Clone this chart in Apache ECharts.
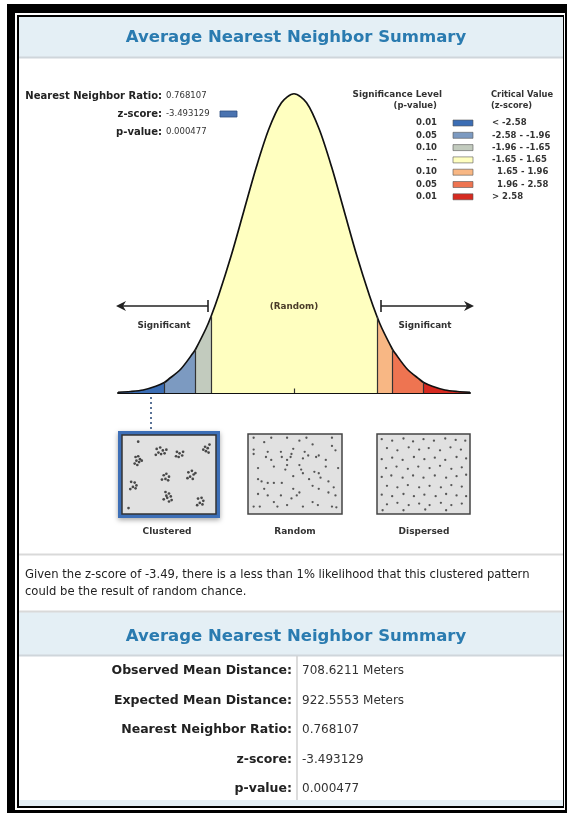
<!DOCTYPE html>
<html>
<head>
<meta charset="utf-8">
<script src="https://cdn.jsdelivr.net/npm/echarts@6/dist/echarts.min.js"></script>
<style>
  html, body { margin: 0; padding: 0; background: #fff; }
  #chart { width: 567px; height: 813px; }
</style>
</head>
<body>
<div id="chart"></div>
<script>
// normal curve (z-score, height)
var curveZ = [-3.5, -3.25, -3, -2.75, -2.58, -2.5, -2.25, -2, -1.96, -1.75, -1.65, -1.5, -1.25, -1, -0.75, -0.5, -0.25,
    0, 0.25, 0.5, 0.75, 1, 1.25, 1.5, 1.65, 1.75, 1.96, 2, 2.25, 2.5, 2.58, 2.75, 3, 3.25, 3.5];
var curveH = [0.001, 0.002, 0.004, 0.009, 0.014, 0.018, 0.032, 0.054, 0.058, 0.086, 0.102, 0.130, 0.183, 0.242, 0.301, 0.352, 0.387,
    0.399, 0.387, 0.352, 0.301, 0.242, 0.183, 0.130, 0.102, 0.086, 0.058, 0.054, 0.032, 0.018, 0.014, 0.009, 0.004, 0.002, 0.001];
var bandEdges = [-3.5, -2.58, -1.96, -1.65, 1.65, 1.96, 2.58, 3.5];
var bandColors = ['#3b6db4', '#7c9ac1', '#c2cbbe', '#ffffc0', '#f8b784', '#ee7451', '#d62a20'];

// legend
var sigLevels = ['0.01', '0.05', '0.10', '---', '0.10', '0.05', '0.01'];
var critValues = ['< -2.58', '-2.58 - -1.96', '-1.96 - -1.65', '-1.65 - 1.65', '1.65 - 1.96', '1.96 - 2.58', '> 2.58'];

// top-left stats
var topLabels = ['Nearest Neighbor Ratio:', 'z-score:', 'p-value:'];
var topValues = ['0.768107', '-3.493129', '0.000477'];

// pattern pictures (unit coords inside each box, y from top)
var clusteredPts = [
    [0.12,0.26],[0.15,0.25],[0.17,0.29],[0.13,0.31],[0.16,0.33],[0.11,0.35],[0.19,0.31],[0.14,0.37],
    [0.36,0.15],[0.40,0.13],[0.43,0.17],[0.38,0.20],[0.41,0.22],[0.45,0.21],[0.35,0.23],[0.47,0.16],
    [0.59,0.19],[0.62,0.21],[0.65,0.24],[0.61,0.26],[0.66,0.19],[0.58,0.25],
    [0.91,0.12],[0.94,0.14],[0.92,0.18],[0.95,0.20],[0.89,0.16],
    [0.44,0.51],[0.47,0.49],[0.50,0.53],[0.46,0.56],[0.42,0.57],[0.49,0.58],
    [0.72,0.47],[0.76,0.45],[0.78,0.50],[0.74,0.53],[0.71,0.55],[0.77,0.56],[0.80,0.48],
    [0.07,0.60],[0.11,0.61],[0.13,0.65],[0.09,0.67],[0.06,0.70],[0.12,0.69],
    [0.46,0.74],[0.50,0.76],[0.52,0.80],[0.48,0.82],[0.44,0.84],[0.53,0.85],[0.50,0.87],[0.47,0.79],
    [0.83,0.83],[0.87,0.82],[0.89,0.86],[0.85,0.89],[0.82,0.92],[0.88,0.91],
    [0.15,0.05],[0.04,0.96],[0.96,0.09]
];
var randomPts = [
    [0.03,0.17],[0.03,0.23],[0.15,0.07],[0.19,0.20],[0.17,0.27],[0.23,0.31],[0.26,0.40],[0.34,0.20],
    [0.35,0.27],[0.41,0.31],[0.46,0.23],[0.48,0.16],[0.45,0.27],[0.55,0.38],[0.57,0.44],[0.59,0.49],
    [0.70,0.10],[0.61,0.20],[0.65,0.25],[0.74,0.27],[0.77,0.25],[0.92,0.12],[0.96,0.18],[0.72,0.47],
    [0.77,0.49],[0.79,0.55],[0.85,0.40],[0.88,0.60],[0.08,0.57],[0.12,0.60],[0.19,0.62],[0.26,0.62],
    [0.35,0.62],[0.08,0.77],[0.19,0.79],[0.15,0.70],[0.48,0.70],[0.52,0.79],[0.46,0.83],[0.55,0.75],
    [0.70,0.66],[0.77,0.70],[0.88,0.75],[0.96,0.79],[0.03,0.94],[0.10,0.94],[0.30,0.94],[0.41,0.92],
    [0.59,0.94],[0.76,0.92],[0.92,0.94],[0.97,0.95],[0.26,0.88],[0.70,0.88],[0.48,0.53],[0.39,0.44],
    [0.08,0.42],[0.99,0.42],[0.03,0.01],[0.23,0.01],[0.41,0.01],[0.63,0.01],[0.92,0.01],[0.55,0.05],
    [0.85,0.31],[0.66,0.57],[0.94,0.68],[0.34,0.79],[0.41,0.38],[0.59,0.29]
];
var dispersedPts = [
    [0.02,0.03],[0.14,0.05],[0.27,0.02],[0.38,0.06],[0.50,0.03],[0.62,0.05],[0.75,0.02],[0.87,0.04],[0.98,0.05],
    [0.08,0.15],[0.20,0.18],[0.33,0.14],[0.45,0.17],[0.56,0.15],[0.69,0.18],[0.81,0.14],[0.93,0.17],
    [0.02,0.30],[0.14,0.28],[0.26,0.31],[0.39,0.27],[0.51,0.30],[0.63,0.28],[0.75,0.31],[0.88,0.27],[0.99,0.29],
    [0.07,0.42],[0.19,0.40],[0.32,0.43],[0.44,0.40],[0.57,0.42],[0.69,0.39],[0.82,0.43],[0.94,0.41],
    [0.02,0.54],[0.13,0.52],[0.26,0.55],[0.38,0.52],[0.50,0.55],[0.63,0.52],[0.76,0.55],[0.88,0.53],[0.99,0.51],
    [0.08,0.66],[0.20,0.68],[0.32,0.65],[0.45,0.68],[0.57,0.66],[0.70,0.68],[0.82,0.65],[0.94,0.67],
    [0.02,0.78],[0.14,0.80],[0.27,0.77],[0.39,0.80],[0.51,0.78],[0.64,0.80],[0.76,0.77],[0.88,0.79],[0.99,0.80],
    [0.08,0.91],[0.20,0.89],[0.33,0.92],[0.45,0.90],[0.57,0.92],[0.70,0.89],[0.82,0.92],[0.94,0.90],
    [0.03,0.99],[0.27,0.99],[0.52,0.98],[0.76,0.99]
];
var patternNames = ['Clustered', 'Random', 'Dispersed'];

// summary table
var statLabels = ['Observed Mean Distance:', 'Expected Mean Distance:', 'Nearest Neighbor Ratio:', 'z-score:', 'p-value:'];
var statValues = ['708.6211 Meters', '922.5553 Meters', '0.768107', '-3.493129', '0.000477'];

var titleText = 'Average Nearest Neighbor Summary';
var noteLines = ['Given the z-score of -3.49, there is a less than 1% likelihood that this clustered pattern',
    'could be the result of random chance.'];

var FONT = '"DejaVu Sans", Verdana, sans-serif';

function txt(x, y, text, size, bold, fill, align) {
    return {
        type: 'text', x: x, y: y, z: 100,
        style: {
            text: text, fill: fill || '#333',
            font: (bold ? 'bold ' : '') + size + 'px ' + FONT,
            align: align || 'left', textAlign: align || 'left',
            verticalAlign: 'middle', textVerticalAlign: 'middle'
        }
    };
}
function rect(x, y, w, h, style, z) {
    return { type: 'rect', shape: { x: x, y: y, width: w, height: h }, style: style, z: z || 0 };
}
function line(x1, y1, x2, y2, style, z) {
    return { type: 'line', shape: { x1: x1, y1: y1, x2: x2, y2: y2 }, style: style, z: z || 1 };
}

var chart = echarts.init(document.getElementById('chart'));

// band area series
var pts = curveZ.map(function (z, i) { return [z, curveH[i]]; });
var bandSeries = [];
for (var b = 0; b < bandColors.length; b++) {
    var lo = bandEdges[b], hi = bandEdges[b + 1];
    bandSeries.push({
        type: 'line', xAxisIndex: 0, yAxisIndex: 0, smooth: 0.3, symbol: 'none',
        data: pts.filter(function (p) { return p[0] >= lo - 1e-9 && p[0] <= hi + 1e-9; }),
        lineStyle: { width: 0 },
        areaStyle: { color: bandColors[b], opacity: 1 },
        silent: true, z: 2
    });
}
// dividers between bands
var dividers = [];
bandEdges.slice(1, -1).forEach(function (e) {
    var idx = curveZ.indexOf(e);
    dividers.push([{ coord: [e, 0] }, { coord: [e, curveH[idx]] }]);
});
dividers.push([{ coord: [0, 0] }, { coord: [0, 0.006] }]);

var graphics = [];
// frame
graphics.push(rect(7, 4, 560, 809, { fill: '#000' }, -20));
graphics.push(rect(15, 13, 550, 797, { fill: '#fff' }, -19));
graphics.push(rect(17, 15, 547, 793, { fill: '#000' }, -18));
graphics.push(rect(19, 17, 544, 789, { fill: '#fff' }, -17));
// header
graphics.push(rect(19, 17, 544, 40, { fill: '#e4eff5' }, -16));
graphics.push(line(19, 57.5, 563, 57.5, { stroke: '#cfd6db', lineWidth: 2 }, -15));
graphics.push(txt(296, 38, titleText, 16.5, true, '#2a7bb0', 'center'));

// top-left stats
topLabels.forEach(function (l, i) {
    var y = 96 + i * 18;
    graphics.push(txt(162, y, l, 10, true, '#222', 'right'));
    graphics.push(txt(166, y, topValues[i], 8.5, false, '#333', 'left'));
});
graphics.push(rect(220, 111, 17, 6, { fill: '#4a73b0', stroke: '#2d4f80', lineWidth: 0.8 }, 5));

// legend
graphics.push(txt(442, 95, 'Significance Level', 8.8, true, '#333', 'right'));
graphics.push(txt(437, 106, '(p-value)', 8.5, true, '#333', 'right'));
graphics.push(txt(491, 95, 'Critical Value', 8.3, true, '#333', 'left'));
graphics.push(txt(491, 106, '(z-score)', 8.3, true, '#333', 'left'));
sigLevels.forEach(function (s, i) {
    var y = 123 + i * 12.3;
    graphics.push(txt(437, y, s, 8.5, true, '#333', 'right'));
    graphics.push(rect(453, y - 3, 20, 6, { fill: bandColors[i], stroke: '#555', lineWidth: 0.6 }, 5));
    graphics.push(txt(i >= 4 && i < 6 ? 497 : 492, y, critValues[i], 8.5, true, '#333', 'left'));
});

// arrows
var arrowStyle = { stroke: '#222', lineWidth: 1.6, fill: null };
graphics.push(line(119, 306, 208, 306, arrowStyle, 6));
graphics.push(line(208, 300, 208, 312, arrowStyle, 6));
graphics.push({ type: 'polygon', z: 6, shape: { points: [[116, 306], [126, 301], [123, 306], [126, 311]] }, style: { fill: '#222' } });
graphics.push(line(381, 306, 471, 306, arrowStyle, 6));
graphics.push(line(381, 300, 381, 312, arrowStyle, 6));
graphics.push({ type: 'polygon', z: 6, shape: { points: [[474, 306], [464, 301], [467, 306], [464, 311]] }, style: { fill: '#222' } });
graphics.push(txt(294, 307, '(Random)', 8.8, true, '#4a3c28', 'center'));
graphics.push(txt(164, 326, 'Significant', 8.8, true, '#333', 'center'));
graphics.push(txt(425, 326, 'Significant', 8.8, true, '#333', 'center'));

// dotted pointer
graphics.push(line(151, 397, 151, 431, { stroke: '#5a7397', lineWidth: 2, lineDash: [2, 3] }, 6));

// pattern boxes
graphics.push({ type: 'rect', z: 1, shape: { x: 118, y: 431, width: 102, height: 87 },
    style: { fill: '#3d6fb7', shadowBlur: 5, shadowColor: 'rgba(0,0,0,0.35)', shadowOffsetY: 2 } });
graphics.push(rect(122, 435, 94, 79, { fill: '#e1e1e1', stroke: '#333', lineWidth: 1.5 }, 2));
graphics.push(rect(248, 434, 94, 80, { fill: '#e1e1e1', stroke: '#444', lineWidth: 1.5 }, 2));
graphics.push(rect(377, 434, 93, 80, { fill: '#e1e1e1', stroke: '#444', lineWidth: 1.5 }, 2));
[167, 295, 424].forEach(function (x, i) {
    graphics.push(txt(x, 532, patternNames[i], 9, true, '#333', 'center'));
});

// separator and note
graphics.push(line(19, 554.5, 563, 554.5, { stroke: '#d9d9d9', lineWidth: 2 }, 1));
noteLines.forEach(function (l, i) {
    graphics.push(txt(25, 575 + i * 17, l, 11.6, false, '#222', 'left'));
});

// second header
graphics.push(line(19, 611.5, 563, 611.5, { stroke: '#d9d9d9', lineWidth: 2 }, -14));
graphics.push(rect(19, 612, 544, 43, { fill: '#e4eff5' }, -16));
graphics.push(line(19, 655.5, 563, 655.5, { stroke: '#cfd6db', lineWidth: 2 }, -15));
graphics.push(txt(296, 637, titleText, 16.5, true, '#2a7bb0', 'center'));

// table
graphics.push(line(297, 656, 297, 800, { stroke: '#d0d0d0', lineWidth: 1.5 }, 1));
statLabels.forEach(function (l, i) {
    var y = 671 + i * 29.5;
    graphics.push(txt(292, y, l, 12.5, true, '#222', 'right'));
    graphics.push(txt(302, y, statValues[i], 12, false, '#333', 'left'));
});
graphics.push(rect(19, 800, 544, 6, { fill: '#e4eff5' }, -16));

function boxAxes(i) {
    return {
        x: { type: 'value', gridIndex: i, min: 0, max: 1, show: false },
        y: { type: 'value', gridIndex: i, min: 0, max: 1, inverse: true, show: false }
    };
}
var a1 = boxAxes(1), a2 = boxAxes(2), a3 = boxAxes(3);

chart.setOption({
    animation: false,
    backgroundColor: '#fff',
    grid: [
        { left: 118, top: 93, width: 352, height: 300 },
        { left: 125, top: 438, width: 88, height: 73 },
        { left: 251, top: 437, width: 88, height: 74 },
        { left: 380, top: 437, width: 87, height: 74 }
    ],
    xAxis: [
        {
            type: 'value', gridIndex: 0, min: -3.5, max: 3.5,
            axisLine: { show: true, lineStyle: { color: '#111', width: 2 } },
            axisTick: { show: false }, axisLabel: { show: false }, splitLine: { show: false }
        },
        a1.x, a2.x, a3.x
    ],
    yAxis: [
        { type: 'value', gridIndex: 0, min: 0, max: 0.4, show: false, splitLine: { show: false } },
        a1.y, a2.y, a3.y
    ],
    graphic: { elements: graphics },
    series: bandSeries.concat([
        {
            type: 'line', xAxisIndex: 0, yAxisIndex: 0, smooth: 0.3, symbol: 'none', data: pts,
            lineStyle: { color: '#111', width: 1.7 }, z: 4, silent: true,
            markLine: {
                silent: true, symbol: ['none', 'none'], label: { show: false },
                lineStyle: { color: '#333', width: 1.2, type: 'solid' },
                data: dividers
            }
        },
        { type: 'scatter', xAxisIndex: 1, yAxisIndex: 1, data: clusteredPts, symbolSize: 2.7, itemStyle: { color: '#222' }, z: 5 },
        { type: 'scatter', xAxisIndex: 2, yAxisIndex: 2, data: randomPts, symbolSize: 2.3, itemStyle: { color: '#333' }, z: 5 },
        { type: 'scatter', xAxisIndex: 3, yAxisIndex: 3, data: dispersedPts, symbolSize: 2.3, itemStyle: { color: '#333' }, z: 5 }
    ])
});
</script>
</body>
</html>
